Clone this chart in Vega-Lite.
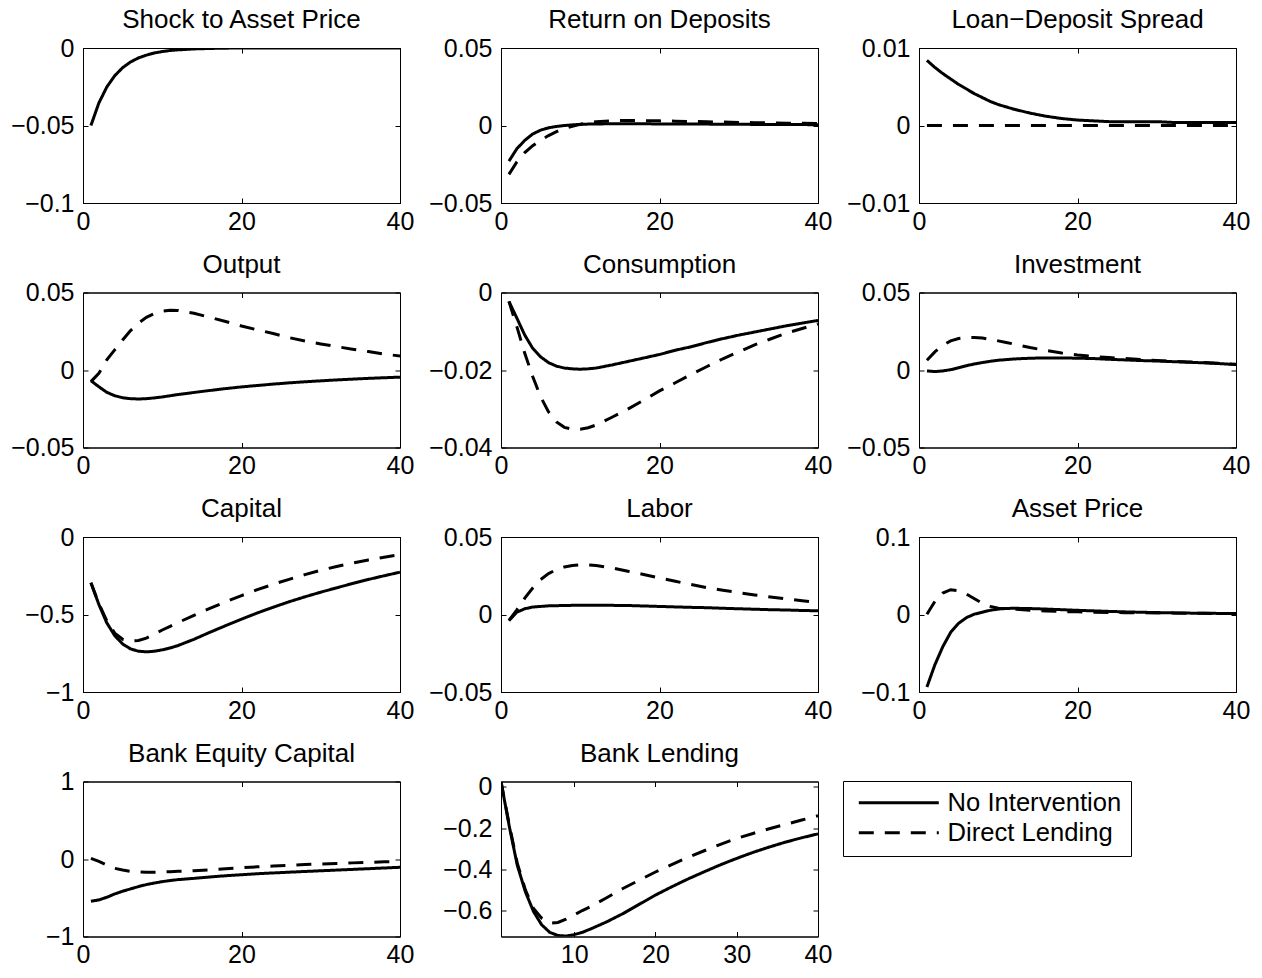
{
"$schema":"https://vega.github.io/schema/vega-lite/v6.json",
"padding":{"left":10,"top":6,"right":0,"bottom":0},
"background":"white",
"bounds":"flush",
"columns":3,
"spacing":{"row":89.5,"column":101},
"data":{"values":[
{"p":"shock","s":"N","t":1,"v":-0.05},{"p":"shock","s":"N","t":2,"v":-0.0355},{"p":"shock","s":"N","t":3,"v":-0.0252},{"p":"shock","s":"N","t":4,"v":-0.0179},{"p":"shock","s":"N","t":5,"v":-0.0127},{"p":"shock","s":"N","t":6,"v":-0.009},{"p":"shock","s":"N","t":7,"v":-0.0064},{"p":"shock","s":"N","t":8,"v":-0.0046},{"p":"shock","s":"N","t":9,"v":-0.0032},{"p":"shock","s":"N","t":10,"v":-0.0023},{"p":"shock","s":"N","t":11,"v":-0.0016},{"p":"shock","s":"N","t":12,"v":-0.0012},{"p":"shock","s":"N","t":14,"v":-0.0006},{"p":"shock","s":"N","t":16,"v":-0.0003},{"p":"shock","s":"N","t":18,"v":-0.0001},{"p":"shock","s":"N","t":20,"v":0},{"p":"shock","s":"N","t":22,"v":0},{"p":"shock","s":"N","t":24,"v":0},{"p":"shock","s":"N","t":26,"v":0},{"p":"shock","s":"N","t":28,"v":0},{"p":"shock","s":"N","t":30,"v":0},{"p":"shock","s":"N","t":32,"v":0},{"p":"shock","s":"N","t":34,"v":0},{"p":"shock","s":"N","t":36,"v":0},{"p":"shock","s":"N","t":38,"v":0},{"p":"shock","s":"N","t":40,"v":0},
{"p":"rd","s":"N","t":1,"v":-0.023},{"p":"rd","s":"N","t":2,"v":-0.015},{"p":"rd","s":"N","t":3,"v":-0.0096},{"p":"rd","s":"N","t":4,"v":-0.0055},{"p":"rd","s":"N","t":5,"v":-0.003},{"p":"rd","s":"N","t":6,"v":-0.0015},{"p":"rd","s":"N","t":7,"v":-0.0006},{"p":"rd","s":"N","t":8,"v":0},{"p":"rd","s":"N","t":9,"v":0.0004},{"p":"rd","s":"N","t":10,"v":0.0007},{"p":"rd","s":"N","t":11,"v":0.0009},{"p":"rd","s":"N","t":12,"v":0.001},{"p":"rd","s":"N","t":14,"v":0.0011},{"p":"rd","s":"N","t":16,"v":0.0011},{"p":"rd","s":"N","t":18,"v":0.0011},{"p":"rd","s":"N","t":20,"v":0.001},{"p":"rd","s":"N","t":22,"v":0.001},{"p":"rd","s":"N","t":24,"v":0.0009},{"p":"rd","s":"N","t":26,"v":0.0009},{"p":"rd","s":"N","t":28,"v":0.0008},{"p":"rd","s":"N","t":30,"v":0.0008},{"p":"rd","s":"N","t":32,"v":0.0007},{"p":"rd","s":"N","t":34,"v":0.0007},{"p":"rd","s":"N","t":36,"v":0.0006},{"p":"rd","s":"N","t":38,"v":0.0006},{"p":"rd","s":"N","t":40,"v":0.0005},
{"p":"rd","s":"D","t":1,"v":-0.0315},{"p":"rd","s":"D","t":2,"v":-0.0235},{"p":"rd","s":"D","t":3,"v":-0.0175},{"p":"rd","s":"D","t":4,"v":-0.013},{"p":"rd","s":"D","t":5,"v":-0.0095},{"p":"rd","s":"D","t":6,"v":-0.0065},{"p":"rd","s":"D","t":7,"v":-0.004},{"p":"rd","s":"D","t":8,"v":-0.002},{"p":"rd","s":"D","t":9,"v":-0.0005},{"p":"rd","s":"D","t":10,"v":0.0008},{"p":"rd","s":"D","t":11,"v":0.0018},{"p":"rd","s":"D","t":12,"v":0.0024},{"p":"rd","s":"D","t":14,"v":0.0031},{"p":"rd","s":"D","t":16,"v":0.0032},{"p":"rd","s":"D","t":18,"v":0.0031},{"p":"rd","s":"D","t":20,"v":0.003},{"p":"rd","s":"D","t":22,"v":0.0028},{"p":"rd","s":"D","t":24,"v":0.0026},{"p":"rd","s":"D","t":26,"v":0.0024},{"p":"rd","s":"D","t":28,"v":0.0022},{"p":"rd","s":"D","t":30,"v":0.002},{"p":"rd","s":"D","t":32,"v":0.0018},{"p":"rd","s":"D","t":34,"v":0.0017},{"p":"rd","s":"D","t":36,"v":0.0015},{"p":"rd","s":"D","t":38,"v":0.0014},{"p":"rd","s":"D","t":40,"v":0.0013},
{"p":"sp","s":"N","t":1,"v":0.0084},{"p":"sp","s":"N","t":2,"v":0.0075},{"p":"sp","s":"N","t":3,"v":0.0067},{"p":"sp","s":"N","t":4,"v":0.006},{"p":"sp","s":"N","t":5,"v":0.0053},{"p":"sp","s":"N","t":6,"v":0.0047},{"p":"sp","s":"N","t":7,"v":0.0041},{"p":"sp","s":"N","t":8,"v":0.0036},{"p":"sp","s":"N","t":9,"v":0.0031},{"p":"sp","s":"N","t":10,"v":0.0027},{"p":"sp","s":"N","t":11,"v":0.0024},{"p":"sp","s":"N","t":12,"v":0.0021},{"p":"sp","s":"N","t":14,"v":0.0016},{"p":"sp","s":"N","t":16,"v":0.0012},{"p":"sp","s":"N","t":18,"v":0.0009},{"p":"sp","s":"N","t":20,"v":0.0007},{"p":"sp","s":"N","t":22,"v":0.0006},{"p":"sp","s":"N","t":24,"v":0.0005},{"p":"sp","s":"N","t":26,"v":0.0005},{"p":"sp","s":"N","t":28,"v":0.0005},{"p":"sp","s":"N","t":30,"v":0.0005},{"p":"sp","s":"N","t":32,"v":0.0004},{"p":"sp","s":"N","t":34,"v":0.0004},{"p":"sp","s":"N","t":36,"v":0.0004},{"p":"sp","s":"N","t":38,"v":0.0004},{"p":"sp","s":"N","t":40,"v":0.0004},
{"p":"sp","s":"D","t":1,"v":0},{"p":"sp","s":"D","t":2,"v":0},{"p":"sp","s":"D","t":3,"v":0},{"p":"sp","s":"D","t":4,"v":0},{"p":"sp","s":"D","t":5,"v":0},{"p":"sp","s":"D","t":6,"v":0},{"p":"sp","s":"D","t":7,"v":0},{"p":"sp","s":"D","t":8,"v":0},{"p":"sp","s":"D","t":9,"v":0},{"p":"sp","s":"D","t":10,"v":0},{"p":"sp","s":"D","t":11,"v":0},{"p":"sp","s":"D","t":12,"v":0},{"p":"sp","s":"D","t":14,"v":0},{"p":"sp","s":"D","t":16,"v":0},{"p":"sp","s":"D","t":18,"v":0},{"p":"sp","s":"D","t":20,"v":0},{"p":"sp","s":"D","t":22,"v":0},{"p":"sp","s":"D","t":24,"v":0},{"p":"sp","s":"D","t":26,"v":0},{"p":"sp","s":"D","t":28,"v":0},{"p":"sp","s":"D","t":30,"v":0},{"p":"sp","s":"D","t":32,"v":0},{"p":"sp","s":"D","t":34,"v":0},{"p":"sp","s":"D","t":36,"v":0},{"p":"sp","s":"D","t":38,"v":0},{"p":"sp","s":"D","t":40,"v":0},
{"p":"y","s":"N","t":1,"v":-0.0069},{"p":"y","s":"N","t":2,"v":-0.0108},{"p":"y","s":"N","t":3,"v":-0.0144},{"p":"y","s":"N","t":4,"v":-0.0166},{"p":"y","s":"N","t":5,"v":-0.0179},{"p":"y","s":"N","t":6,"v":-0.0185},{"p":"y","s":"N","t":7,"v":-0.0187},{"p":"y","s":"N","t":8,"v":-0.0185},{"p":"y","s":"N","t":9,"v":-0.018},{"p":"y","s":"N","t":10,"v":-0.0174},{"p":"y","s":"N","t":11,"v":-0.0166},{"p":"y","s":"N","t":12,"v":-0.0158},{"p":"y","s":"N","t":14,"v":-0.0145},{"p":"y","s":"N","t":16,"v":-0.0132},{"p":"y","s":"N","t":18,"v":-0.012},{"p":"y","s":"N","t":20,"v":-0.0109},{"p":"y","s":"N","t":22,"v":-0.01},{"p":"y","s":"N","t":24,"v":-0.0091},{"p":"y","s":"N","t":26,"v":-0.0083},{"p":"y","s":"N","t":28,"v":-0.0076},{"p":"y","s":"N","t":30,"v":-0.007},{"p":"y","s":"N","t":32,"v":-0.0064},{"p":"y","s":"N","t":34,"v":-0.0059},{"p":"y","s":"N","t":36,"v":-0.0054},{"p":"y","s":"N","t":38,"v":-0.005},{"p":"y","s":"N","t":40,"v":-0.0046},
{"p":"y","s":"D","t":1,"v":-0.0075},{"p":"y","s":"D","t":2,"v":-0.0022},{"p":"y","s":"D","t":3,"v":0.0065},{"p":"y","s":"D","t":4,"v":0.013},{"p":"y","s":"D","t":5,"v":0.0194},{"p":"y","s":"D","t":6,"v":0.0254},{"p":"y","s":"D","t":7,"v":0.0302},{"p":"y","s":"D","t":8,"v":0.034},{"p":"y","s":"D","t":9,"v":0.0364},{"p":"y","s":"D","t":10,"v":0.0379},{"p":"y","s":"D","t":11,"v":0.0386},{"p":"y","s":"D","t":12,"v":0.0384},{"p":"y","s":"D","t":14,"v":0.0366},{"p":"y","s":"D","t":16,"v":0.034},{"p":"y","s":"D","t":18,"v":0.0313},{"p":"y","s":"D","t":20,"v":0.0284},{"p":"y","s":"D","t":22,"v":0.0259},{"p":"y","s":"D","t":24,"v":0.0235},{"p":"y","s":"D","t":26,"v":0.0209},{"p":"y","s":"D","t":28,"v":0.0187},{"p":"y","s":"D","t":30,"v":0.0168},{"p":"y","s":"D","t":32,"v":0.0151},{"p":"y","s":"D","t":34,"v":0.0134},{"p":"y","s":"D","t":36,"v":0.0119},{"p":"y","s":"D","t":38,"v":0.0103},{"p":"y","s":"D","t":40,"v":0.009},
{"p":"c","s":"N","t":1,"v":-0.0023},{"p":"c","s":"N","t":2,"v":-0.0066},{"p":"c","s":"N","t":3,"v":-0.011},{"p":"c","s":"N","t":4,"v":-0.0144},{"p":"c","s":"N","t":5,"v":-0.0166},{"p":"c","s":"N","t":6,"v":-0.0181},{"p":"c","s":"N","t":7,"v":-0.019},{"p":"c","s":"N","t":8,"v":-0.0195},{"p":"c","s":"N","t":9,"v":-0.0197},{"p":"c","s":"N","t":10,"v":-0.0198},{"p":"c","s":"N","t":11,"v":-0.0197},{"p":"c","s":"N","t":12,"v":-0.0195},{"p":"c","s":"N","t":14,"v":-0.0187},{"p":"c","s":"N","t":16,"v":-0.0178},{"p":"c","s":"N","t":18,"v":-0.0169},{"p":"c","s":"N","t":20,"v":-0.016},{"p":"c","s":"N","t":22,"v":-0.0149},{"p":"c","s":"N","t":24,"v":-0.014},{"p":"c","s":"N","t":26,"v":-0.0129},{"p":"c","s":"N","t":28,"v":-0.0119},{"p":"c","s":"N","t":30,"v":-0.011},{"p":"c","s":"N","t":32,"v":-0.0102},{"p":"c","s":"N","t":34,"v":-0.0094},{"p":"c","s":"N","t":36,"v":-0.0086},{"p":"c","s":"N","t":38,"v":-0.0079},{"p":"c","s":"N","t":40,"v":-0.0072},
{"p":"c","s":"D","t":1,"v":-0.0023},{"p":"c","s":"D","t":2,"v":-0.0088},{"p":"c","s":"D","t":3,"v":-0.0157},{"p":"c","s":"D","t":4,"v":-0.0217},{"p":"c","s":"D","t":5,"v":-0.0269},{"p":"c","s":"D","t":6,"v":-0.0308},{"p":"c","s":"D","t":7,"v":-0.0334},{"p":"c","s":"D","t":8,"v":-0.0348},{"p":"c","s":"D","t":9,"v":-0.0353},{"p":"c","s":"D","t":10,"v":-0.0353},{"p":"c","s":"D","t":11,"v":-0.0349},{"p":"c","s":"D","t":12,"v":-0.0342},{"p":"c","s":"D","t":14,"v":-0.0322},{"p":"c","s":"D","t":16,"v":-0.0301},{"p":"c","s":"D","t":18,"v":-0.0278},{"p":"c","s":"D","t":20,"v":-0.0254},{"p":"c","s":"D","t":22,"v":-0.0233},{"p":"c","s":"D","t":24,"v":-0.0211},{"p":"c","s":"D","t":26,"v":-0.0191},{"p":"c","s":"D","t":28,"v":-0.0171},{"p":"c","s":"D","t":30,"v":-0.0153},{"p":"c","s":"D","t":32,"v":-0.0135},{"p":"c","s":"D","t":34,"v":-0.012},{"p":"c","s":"D","t":36,"v":-0.0105},{"p":"c","s":"D","t":38,"v":-0.0093},{"p":"c","s":"D","t":40,"v":-0.0081},
{"p":"i","s":"N","t":1,"v":-0.0006},{"p":"i","s":"N","t":2,"v":-0.001},{"p":"i","s":"N","t":3,"v":-0.0006},{"p":"i","s":"N","t":4,"v":0.0002},{"p":"i","s":"N","t":5,"v":0.0015},{"p":"i","s":"N","t":6,"v":0.0028},{"p":"i","s":"N","t":7,"v":0.0039},{"p":"i","s":"N","t":8,"v":0.0048},{"p":"i","s":"N","t":9,"v":0.0056},{"p":"i","s":"N","t":10,"v":0.0063},{"p":"i","s":"N","t":11,"v":0.0067},{"p":"i","s":"N","t":12,"v":0.0071},{"p":"i","s":"N","t":14,"v":0.0076},{"p":"i","s":"N","t":16,"v":0.0078},{"p":"i","s":"N","t":18,"v":0.0078},{"p":"i","s":"N","t":20,"v":0.0076},{"p":"i","s":"N","t":22,"v":0.0074},{"p":"i","s":"N","t":24,"v":0.0069},{"p":"i","s":"N","t":26,"v":0.0065},{"p":"i","s":"N","t":28,"v":0.0061},{"p":"i","s":"N","t":30,"v":0.0058},{"p":"i","s":"N","t":32,"v":0.0054},{"p":"i","s":"N","t":34,"v":0.005},{"p":"i","s":"N","t":36,"v":0.0046},{"p":"i","s":"N","t":38,"v":0.0041},{"p":"i","s":"N","t":40,"v":0.0035},
{"p":"i","s":"D","t":1,"v":0.0063},{"p":"i","s":"D","t":2,"v":0.0117},{"p":"i","s":"D","t":3,"v":0.016},{"p":"i","s":"D","t":4,"v":0.0188},{"p":"i","s":"D","t":5,"v":0.0203},{"p":"i","s":"D","t":6,"v":0.021},{"p":"i","s":"D","t":7,"v":0.021},{"p":"i","s":"D","t":8,"v":0.0206},{"p":"i","s":"D","t":9,"v":0.0198},{"p":"i","s":"D","t":10,"v":0.0188},{"p":"i","s":"D","t":11,"v":0.0178},{"p":"i","s":"D","t":12,"v":0.0167},{"p":"i","s":"D","t":14,"v":0.0145},{"p":"i","s":"D","t":16,"v":0.0126},{"p":"i","s":"D","t":18,"v":0.011},{"p":"i","s":"D","t":20,"v":0.0097},{"p":"i","s":"D","t":22,"v":0.0087},{"p":"i","s":"D","t":24,"v":0.008},{"p":"i","s":"D","t":26,"v":0.0074},{"p":"i","s":"D","t":28,"v":0.0067},{"p":"i","s":"D","t":30,"v":0.0061},{"p":"i","s":"D","t":32,"v":0.0056},{"p":"i","s":"D","t":34,"v":0.0052},{"p":"i","s":"D","t":36,"v":0.0048},{"p":"i","s":"D","t":38,"v":0.0043},{"p":"i","s":"D","t":40,"v":0.0037},
{"p":"k","s":"N","t":1,"v":-0.295},{"p":"k","s":"N","t":2,"v":-0.435},{"p":"k","s":"N","t":3,"v":-0.554},{"p":"k","s":"N","t":4,"v":-0.636},{"p":"k","s":"N","t":5,"v":-0.69},{"p":"k","s":"N","t":6,"v":-0.722},{"p":"k","s":"N","t":7,"v":-0.737},{"p":"k","s":"N","t":8,"v":-0.741},{"p":"k","s":"N","t":9,"v":-0.737},{"p":"k","s":"N","t":10,"v":-0.728},{"p":"k","s":"N","t":11,"v":-0.716},{"p":"k","s":"N","t":12,"v":-0.7},{"p":"k","s":"N","t":14,"v":-0.66},{"p":"k","s":"N","t":16,"v":-0.615},{"p":"k","s":"N","t":18,"v":-0.572},{"p":"k","s":"N","t":20,"v":-0.53},{"p":"k","s":"N","t":22,"v":-0.49},{"p":"k","s":"N","t":24,"v":-0.453},{"p":"k","s":"N","t":26,"v":-0.418},{"p":"k","s":"N","t":28,"v":-0.386},{"p":"k","s":"N","t":30,"v":-0.356},{"p":"k","s":"N","t":32,"v":-0.328},{"p":"k","s":"N","t":34,"v":-0.3},{"p":"k","s":"N","t":36,"v":-0.274},{"p":"k","s":"N","t":38,"v":-0.25},{"p":"k","s":"N","t":40,"v":-0.227},
{"p":"k","s":"D","t":1,"v":-0.295},{"p":"k","s":"D","t":2,"v":-0.43},{"p":"k","s":"D","t":3,"v":-0.54},{"p":"k","s":"D","t":4,"v":-0.62},{"p":"k","s":"D","t":5,"v":-0.66},{"p":"k","s":"D","t":6,"v":-0.672},{"p":"k","s":"D","t":7,"v":-0.668},{"p":"k","s":"D","t":8,"v":-0.652},{"p":"k","s":"D","t":9,"v":-0.627},{"p":"k","s":"D","t":10,"v":-0.6},{"p":"k","s":"D","t":11,"v":-0.576},{"p":"k","s":"D","t":12,"v":-0.552},{"p":"k","s":"D","t":14,"v":-0.505},{"p":"k","s":"D","t":16,"v":-0.46},{"p":"k","s":"D","t":18,"v":-0.418},{"p":"k","s":"D","t":20,"v":-0.378},{"p":"k","s":"D","t":22,"v":-0.34},{"p":"k","s":"D","t":24,"v":-0.305},{"p":"k","s":"D","t":26,"v":-0.273},{"p":"k","s":"D","t":28,"v":-0.243},{"p":"k","s":"D","t":30,"v":-0.215},{"p":"k","s":"D","t":32,"v":-0.19},{"p":"k","s":"D","t":34,"v":-0.168},{"p":"k","s":"D","t":36,"v":-0.148},{"p":"k","s":"D","t":38,"v":-0.13},{"p":"k","s":"D","t":40,"v":-0.113},
{"p":"l","s":"N","t":1,"v":-0.0039},{"p":"l","s":"N","t":2,"v":0.0015},{"p":"l","s":"N","t":3,"v":0.0037},{"p":"l","s":"N","t":4,"v":0.0048},{"p":"l","s":"N","t":5,"v":0.0052},{"p":"l","s":"N","t":6,"v":0.0056},{"p":"l","s":"N","t":7,"v":0.0057},{"p":"l","s":"N","t":8,"v":0.0058},{"p":"l","s":"N","t":9,"v":0.0059},{"p":"l","s":"N","t":10,"v":0.006},{"p":"l","s":"N","t":11,"v":0.006},{"p":"l","s":"N","t":12,"v":0.006},{"p":"l","s":"N","t":14,"v":0.0059},{"p":"l","s":"N","t":16,"v":0.0058},{"p":"l","s":"N","t":18,"v":0.0055},{"p":"l","s":"N","t":20,"v":0.0052},{"p":"l","s":"N","t":22,"v":0.0049},{"p":"l","s":"N","t":24,"v":0.0046},{"p":"l","s":"N","t":26,"v":0.0044},{"p":"l","s":"N","t":28,"v":0.004},{"p":"l","s":"N","t":30,"v":0.0037},{"p":"l","s":"N","t":32,"v":0.0034},{"p":"l","s":"N","t":34,"v":0.0031},{"p":"l","s":"N","t":36,"v":0.0029},{"p":"l","s":"N","t":38,"v":0.0026},{"p":"l","s":"N","t":40,"v":0.0024},
{"p":"l","s":"D","t":1,"v":-0.0039},{"p":"l","s":"D","t":2,"v":0.003},{"p":"l","s":"D","t":3,"v":0.0106},{"p":"l","s":"D","t":4,"v":0.0171},{"p":"l","s":"D","t":5,"v":0.0225},{"p":"l","s":"D","t":6,"v":0.0264},{"p":"l","s":"D","t":7,"v":0.029},{"p":"l","s":"D","t":8,"v":0.0307},{"p":"l","s":"D","t":9,"v":0.0316},{"p":"l","s":"D","t":10,"v":0.032},{"p":"l","s":"D","t":11,"v":0.032},{"p":"l","s":"D","t":12,"v":0.0316},{"p":"l","s":"D","t":14,"v":0.0301},{"p":"l","s":"D","t":16,"v":0.0279},{"p":"l","s":"D","t":18,"v":0.0258},{"p":"l","s":"D","t":20,"v":0.0236},{"p":"l","s":"D","t":22,"v":0.0214},{"p":"l","s":"D","t":24,"v":0.0193},{"p":"l","s":"D","t":26,"v":0.0173},{"p":"l","s":"D","t":28,"v":0.0156},{"p":"l","s":"D","t":30,"v":0.0141},{"p":"l","s":"D","t":32,"v":0.0126},{"p":"l","s":"D","t":34,"v":0.0113},{"p":"l","s":"D","t":36,"v":0.01},{"p":"l","s":"D","t":38,"v":0.0089},{"p":"l","s":"D","t":40,"v":0.0078},
{"p":"q","s":"N","t":1,"v":-0.0935},{"p":"q","s":"N","t":2,"v":-0.065},{"p":"q","s":"N","t":3,"v":-0.0416},{"p":"q","s":"N","t":4,"v":-0.023},{"p":"q","s":"N","t":5,"v":-0.0113},{"p":"q","s":"N","t":6,"v":-0.004},{"p":"q","s":"N","t":7,"v":0.0005},{"p":"q","s":"N","t":8,"v":0.003},{"p":"q","s":"N","t":9,"v":0.0055},{"p":"q","s":"N","t":10,"v":0.007},{"p":"q","s":"N","t":11,"v":0.0078},{"p":"q","s":"N","t":12,"v":0.008},{"p":"q","s":"N","t":14,"v":0.0077},{"p":"q","s":"N","t":16,"v":0.007},{"p":"q","s":"N","t":18,"v":0.0062},{"p":"q","s":"N","t":20,"v":0.0054},{"p":"q","s":"N","t":22,"v":0.0047},{"p":"q","s":"N","t":24,"v":0.004},{"p":"q","s":"N","t":26,"v":0.0034},{"p":"q","s":"N","t":28,"v":0.0029},{"p":"q","s":"N","t":30,"v":0.0025},{"p":"q","s":"N","t":32,"v":0.0021},{"p":"q","s":"N","t":34,"v":0.0018},{"p":"q","s":"N","t":36,"v":0.0016},{"p":"q","s":"N","t":38,"v":0.0014},{"p":"q","s":"N","t":40,"v":0.0013},
{"p":"q","s":"D","t":1,"v":0.0004},{"p":"q","s":"D","t":2,"v":0.0169},{"p":"q","s":"D","t":3,"v":0.0277},{"p":"q","s":"D","t":4,"v":0.032},{"p":"q","s":"D","t":5,"v":0.0307},{"p":"q","s":"D","t":6,"v":0.0264},{"p":"q","s":"D","t":7,"v":0.0203},{"p":"q","s":"D","t":8,"v":0.0143},{"p":"q","s":"D","t":9,"v":0.0105},{"p":"q","s":"D","t":10,"v":0.008},{"p":"q","s":"D","t":11,"v":0.0075},{"p":"q","s":"D","t":12,"v":0.007},{"p":"q","s":"D","t":14,"v":0.0055},{"p":"q","s":"D","t":16,"v":0.0045},{"p":"q","s":"D","t":18,"v":0.0038},{"p":"q","s":"D","t":20,"v":0.0034},{"p":"q","s":"D","t":22,"v":0.003},{"p":"q","s":"D","t":24,"v":0.0027},{"p":"q","s":"D","t":26,"v":0.0024},{"p":"q","s":"D","t":28,"v":0.0022},{"p":"q","s":"D","t":30,"v":0.002},{"p":"q","s":"D","t":32,"v":0.0018},{"p":"q","s":"D","t":34,"v":0.0016},{"p":"q","s":"D","t":36,"v":0.0015},{"p":"q","s":"D","t":38,"v":0.0013},{"p":"q","s":"D","t":40,"v":0.0012},
{"p":"e","s":"N","t":1,"v":-0.545},{"p":"e","s":"N","t":2,"v":-0.528},{"p":"e","s":"N","t":3,"v":-0.494},{"p":"e","s":"N","t":4,"v":-0.451},{"p":"e","s":"N","t":5,"v":-0.416},{"p":"e","s":"N","t":6,"v":-0.386},{"p":"e","s":"N","t":7,"v":-0.356},{"p":"e","s":"N","t":8,"v":-0.33},{"p":"e","s":"N","t":9,"v":-0.31},{"p":"e","s":"N","t":10,"v":-0.292},{"p":"e","s":"N","t":11,"v":-0.278},{"p":"e","s":"N","t":12,"v":-0.266},{"p":"e","s":"N","t":14,"v":-0.25},{"p":"e","s":"N","t":16,"v":-0.232},{"p":"e","s":"N","t":18,"v":-0.216},{"p":"e","s":"N","t":20,"v":-0.203},{"p":"e","s":"N","t":22,"v":-0.19},{"p":"e","s":"N","t":24,"v":-0.18},{"p":"e","s":"N","t":26,"v":-0.17},{"p":"e","s":"N","t":28,"v":-0.161},{"p":"e","s":"N","t":30,"v":-0.152},{"p":"e","s":"N","t":32,"v":-0.143},{"p":"e","s":"N","t":34,"v":-0.134},{"p":"e","s":"N","t":36,"v":-0.125},{"p":"e","s":"N","t":38,"v":-0.116},{"p":"e","s":"N","t":40,"v":-0.107},
{"p":"e","s":"D","t":1,"v":0.009},{"p":"e","s":"D","t":2,"v":-0.03},{"p":"e","s":"D","t":3,"v":-0.077},{"p":"e","s":"D","t":4,"v":-0.12},{"p":"e","s":"D","t":5,"v":-0.142},{"p":"e","s":"D","t":6,"v":-0.159},{"p":"e","s":"D","t":7,"v":-0.167},{"p":"e","s":"D","t":8,"v":-0.172},{"p":"e","s":"D","t":9,"v":-0.171},{"p":"e","s":"D","t":10,"v":-0.167},{"p":"e","s":"D","t":11,"v":-0.163},{"p":"e","s":"D","t":12,"v":-0.159},{"p":"e","s":"D","t":14,"v":-0.151},{"p":"e","s":"D","t":16,"v":-0.139},{"p":"e","s":"D","t":18,"v":-0.125},{"p":"e","s":"D","t":20,"v":-0.112},{"p":"e","s":"D","t":22,"v":-0.101},{"p":"e","s":"D","t":24,"v":-0.091},{"p":"e","s":"D","t":26,"v":-0.081},{"p":"e","s":"D","t":28,"v":-0.072},{"p":"e","s":"D","t":30,"v":-0.064},{"p":"e","s":"D","t":32,"v":-0.057},{"p":"e","s":"D","t":34,"v":-0.05},{"p":"e","s":"D","t":36,"v":-0.043},{"p":"e","s":"D","t":38,"v":-0.036},{"p":"e","s":"D","t":40,"v":-0.03},
{"p":"b","s":"N","t":1,"v":0.026},{"p":"b","s":"N","t":2,"v":-0.188},{"p":"b","s":"N","t":3,"v":-0.38},{"p":"b","s":"N","t":4,"v":-0.509},{"p":"b","s":"N","t":5,"v":-0.605},{"p":"b","s":"N","t":6,"v":-0.669},{"p":"b","s":"N","t":7,"v":-0.706},{"p":"b","s":"N","t":8,"v":-0.721},{"p":"b","s":"N","t":9,"v":-0.724},{"p":"b","s":"N","t":10,"v":-0.717},{"p":"b","s":"N","t":11,"v":-0.706},{"p":"b","s":"N","t":12,"v":-0.69},{"p":"b","s":"N","t":14,"v":-0.655},{"p":"b","s":"N","t":16,"v":-0.615},{"p":"b","s":"N","t":18,"v":-0.57},{"p":"b","s":"N","t":20,"v":-0.525},{"p":"b","s":"N","t":22,"v":-0.485},{"p":"b","s":"N","t":24,"v":-0.447},{"p":"b","s":"N","t":26,"v":-0.412},{"p":"b","s":"N","t":28,"v":-0.378},{"p":"b","s":"N","t":30,"v":-0.347},{"p":"b","s":"N","t":32,"v":-0.318},{"p":"b","s":"N","t":34,"v":-0.292},{"p":"b","s":"N","t":36,"v":-0.268},{"p":"b","s":"N","t":38,"v":-0.247},{"p":"b","s":"N","t":40,"v":-0.228},
{"p":"b","s":"D","t":1,"v":0.026},{"p":"b","s":"D","t":2,"v":-0.18},{"p":"b","s":"D","t":3,"v":-0.37},{"p":"b","s":"D","t":4,"v":-0.5},{"p":"b","s":"D","t":5,"v":-0.59},{"p":"b","s":"D","t":6,"v":-0.637},{"p":"b","s":"D","t":7,"v":-0.661},{"p":"b","s":"D","t":8,"v":-0.658},{"p":"b","s":"D","t":9,"v":-0.642},{"p":"b","s":"D","t":10,"v":-0.621},{"p":"b","s":"D","t":11,"v":-0.6},{"p":"b","s":"D","t":12,"v":-0.581},{"p":"b","s":"D","t":14,"v":-0.538},{"p":"b","s":"D","t":16,"v":-0.493},{"p":"b","s":"D","t":18,"v":-0.453},{"p":"b","s":"D","t":20,"v":-0.413},{"p":"b","s":"D","t":22,"v":-0.377},{"p":"b","s":"D","t":24,"v":-0.342},{"p":"b","s":"D","t":26,"v":-0.31},{"p":"b","s":"D","t":28,"v":-0.279},{"p":"b","s":"D","t":30,"v":-0.25},{"p":"b","s":"D","t":32,"v":-0.226},{"p":"b","s":"D","t":34,"v":-0.203},{"p":"b","s":"D","t":36,"v":-0.182},{"p":"b","s":"D","t":38,"v":-0.161},{"p":"b","s":"D","t":40,"v":-0.14}
]},
"concat":[
{"width":317,"height":155,"title":"Shock to Asset Price","transform":[{"filter":"datum.p=='shock'"}],"layer":[{"mark":{"type":"line","strokeWidth":3,"color":"black","clip":true},"encoding":{"x":{"field":"t","type":"quantitative","scale":{"domain":[0,40],"nice":false,"zero":false},"axis":{"orient":"bottom","values":[0,20,40],"title":null}},"y":{"field":"v","type":"quantitative","scale":{"domain":[-0.1,0],"nice":false,"zero":false},"axis":{"orient":"left","values":[-0.1,-0.05,0],"title":null,"format":".2~f"}},"strokeDash":{"field":"s","type":"nominal","scale":{"domain":["N","D"],"range":[[1,0],[15,11]]},"legend":{"title":null,"labelExpr":"datum.label=='N'?'No Intervention':'Direct Lending'"}}}},{"mark":{"type":"line","opacity":0},"encoding":{"x":{"field":"t","type":"quantitative","axis":{"orient":"top","values":[0,20,40],"labels":false,"title":null}},"y":{"field":"v","type":"quantitative","axis":{"orient":"right","values":[-0.1,-0.05,0],"labels":false,"title":null}},"detail":{"field":"s"}}}]},
{"width":317,"height":155,"title":"Return on Deposits","transform":[{"filter":"datum.p=='rd'"}],"layer":[{"mark":{"type":"line","strokeWidth":3,"color":"black","clip":true},"encoding":{"x":{"field":"t","type":"quantitative","scale":{"domain":[0,40],"nice":false,"zero":false},"axis":{"orient":"bottom","values":[0,20,40],"title":null}},"y":{"field":"v","type":"quantitative","scale":{"domain":[-0.05,0.05],"nice":false,"zero":false},"axis":{"orient":"left","values":[-0.05,0,0.05],"title":null,"format":".2~f"}},"strokeDash":{"field":"s","type":"nominal","scale":{"domain":["N","D"],"range":[[1,0],[15,11]]},"legend":{"title":null,"labelExpr":"datum.label=='N'?'No Intervention':'Direct Lending'"}}}},{"mark":{"type":"line","opacity":0},"encoding":{"x":{"field":"t","type":"quantitative","axis":{"orient":"top","values":[0,20,40],"labels":false,"title":null}},"y":{"field":"v","type":"quantitative","axis":{"orient":"right","values":[-0.05,0,0.05],"labels":false,"title":null}},"detail":{"field":"s"}}}]},
{"width":317,"height":155,"title":"Loan−Deposit Spread","transform":[{"filter":"datum.p=='sp'"}],"layer":[{"mark":{"type":"line","strokeWidth":3,"color":"black","clip":true},"encoding":{"x":{"field":"t","type":"quantitative","scale":{"domain":[0,40],"nice":false,"zero":false},"axis":{"orient":"bottom","values":[0,20,40],"title":null}},"y":{"field":"v","type":"quantitative","scale":{"domain":[-0.01,0.01],"nice":false,"zero":false},"axis":{"orient":"left","values":[-0.01,0,0.01],"title":null,"format":".2~f"}},"strokeDash":{"field":"s","type":"nominal","scale":{"domain":["N","D"],"range":[[1,0],[15,11]]},"legend":{"title":null,"labelExpr":"datum.label=='N'?'No Intervention':'Direct Lending'"}}}},{"mark":{"type":"line","opacity":0},"encoding":{"x":{"field":"t","type":"quantitative","axis":{"orient":"top","values":[0,20,40],"labels":false,"title":null}},"y":{"field":"v","type":"quantitative","axis":{"orient":"right","values":[-0.01,0,0.01],"labels":false,"title":null}},"detail":{"field":"s"}}}]},
{"width":317,"height":155,"title":"Output","transform":[{"filter":"datum.p=='y'"}],"layer":[{"mark":{"type":"line","strokeWidth":3,"color":"black","clip":true},"encoding":{"x":{"field":"t","type":"quantitative","scale":{"domain":[0,40],"nice":false,"zero":false},"axis":{"orient":"bottom","values":[0,20,40],"title":null}},"y":{"field":"v","type":"quantitative","scale":{"domain":[-0.05,0.05],"nice":false,"zero":false},"axis":{"orient":"left","values":[-0.05,0,0.05],"title":null,"format":".2~f"}},"strokeDash":{"field":"s","type":"nominal","scale":{"domain":["N","D"],"range":[[1,0],[15,11]]},"legend":{"title":null,"labelExpr":"datum.label=='N'?'No Intervention':'Direct Lending'"}}}},{"mark":{"type":"line","opacity":0},"encoding":{"x":{"field":"t","type":"quantitative","axis":{"orient":"top","values":[0,20,40],"labels":false,"title":null}},"y":{"field":"v","type":"quantitative","axis":{"orient":"right","values":[-0.05,0,0.05],"labels":false,"title":null}},"detail":{"field":"s"}}}]},
{"width":317,"height":155,"title":"Consumption","transform":[{"filter":"datum.p=='c'"}],"layer":[{"mark":{"type":"line","strokeWidth":3,"color":"black","clip":true},"encoding":{"x":{"field":"t","type":"quantitative","scale":{"domain":[0,40],"nice":false,"zero":false},"axis":{"orient":"bottom","values":[0,20,40],"title":null}},"y":{"field":"v","type":"quantitative","scale":{"domain":[-0.04,0],"nice":false,"zero":false},"axis":{"orient":"left","values":[-0.04,-0.02,0],"title":null,"format":".2~f"}},"strokeDash":{"field":"s","type":"nominal","scale":{"domain":["N","D"],"range":[[1,0],[15,11]]},"legend":{"title":null,"labelExpr":"datum.label=='N'?'No Intervention':'Direct Lending'"}}}},{"mark":{"type":"line","opacity":0},"encoding":{"x":{"field":"t","type":"quantitative","axis":{"orient":"top","values":[0,20,40],"labels":false,"title":null}},"y":{"field":"v","type":"quantitative","axis":{"orient":"right","values":[-0.04,-0.02,0],"labels":false,"title":null}},"detail":{"field":"s"}}}]},
{"width":317,"height":155,"title":"Investment","transform":[{"filter":"datum.p=='i'"}],"layer":[{"mark":{"type":"line","strokeWidth":3,"color":"black","clip":true},"encoding":{"x":{"field":"t","type":"quantitative","scale":{"domain":[0,40],"nice":false,"zero":false},"axis":{"orient":"bottom","values":[0,20,40],"title":null}},"y":{"field":"v","type":"quantitative","scale":{"domain":[-0.05,0.05],"nice":false,"zero":false},"axis":{"orient":"left","values":[-0.05,0,0.05],"title":null,"format":".2~f"}},"strokeDash":{"field":"s","type":"nominal","scale":{"domain":["N","D"],"range":[[1,0],[15,11]]},"legend":{"title":null,"labelExpr":"datum.label=='N'?'No Intervention':'Direct Lending'"}}}},{"mark":{"type":"line","opacity":0},"encoding":{"x":{"field":"t","type":"quantitative","axis":{"orient":"top","values":[0,20,40],"labels":false,"title":null}},"y":{"field":"v","type":"quantitative","axis":{"orient":"right","values":[-0.05,0,0.05],"labels":false,"title":null}},"detail":{"field":"s"}}}]},
{"width":317,"height":155,"title":"Capital","transform":[{"filter":"datum.p=='k'"}],"layer":[{"mark":{"type":"line","strokeWidth":3,"color":"black","clip":true},"encoding":{"x":{"field":"t","type":"quantitative","scale":{"domain":[0,40],"nice":false,"zero":false},"axis":{"orient":"bottom","values":[0,20,40],"title":null}},"y":{"field":"v","type":"quantitative","scale":{"domain":[-1,0],"nice":false,"zero":false},"axis":{"orient":"left","values":[-1,-0.5,0],"title":null,"format":".2~f"}},"strokeDash":{"field":"s","type":"nominal","scale":{"domain":["N","D"],"range":[[1,0],[15,11]]},"legend":{"title":null,"labelExpr":"datum.label=='N'?'No Intervention':'Direct Lending'"}}}},{"mark":{"type":"line","opacity":0},"encoding":{"x":{"field":"t","type":"quantitative","axis":{"orient":"top","values":[0,20,40],"labels":false,"title":null}},"y":{"field":"v","type":"quantitative","axis":{"orient":"right","values":[-1,-0.5,0],"labels":false,"title":null}},"detail":{"field":"s"}}}]},
{"width":317,"height":155,"title":"Labor","transform":[{"filter":"datum.p=='l'"}],"layer":[{"mark":{"type":"line","strokeWidth":3,"color":"black","clip":true},"encoding":{"x":{"field":"t","type":"quantitative","scale":{"domain":[0,40],"nice":false,"zero":false},"axis":{"orient":"bottom","values":[0,20,40],"title":null}},"y":{"field":"v","type":"quantitative","scale":{"domain":[-0.05,0.05],"nice":false,"zero":false},"axis":{"orient":"left","values":[-0.05,0,0.05],"title":null,"format":".2~f"}},"strokeDash":{"field":"s","type":"nominal","scale":{"domain":["N","D"],"range":[[1,0],[15,11]]},"legend":{"title":null,"labelExpr":"datum.label=='N'?'No Intervention':'Direct Lending'"}}}},{"mark":{"type":"line","opacity":0},"encoding":{"x":{"field":"t","type":"quantitative","axis":{"orient":"top","values":[0,20,40],"labels":false,"title":null}},"y":{"field":"v","type":"quantitative","axis":{"orient":"right","values":[-0.05,0,0.05],"labels":false,"title":null}},"detail":{"field":"s"}}}]},
{"width":317,"height":155,"title":"Asset Price","transform":[{"filter":"datum.p=='q'"}],"layer":[{"mark":{"type":"line","strokeWidth":3,"color":"black","clip":true},"encoding":{"x":{"field":"t","type":"quantitative","scale":{"domain":[0,40],"nice":false,"zero":false},"axis":{"orient":"bottom","values":[0,20,40],"title":null}},"y":{"field":"v","type":"quantitative","scale":{"domain":[-0.1,0.1],"nice":false,"zero":false},"axis":{"orient":"left","values":[-0.1,0,0.1],"title":null,"format":".2~f"}},"strokeDash":{"field":"s","type":"nominal","scale":{"domain":["N","D"],"range":[[1,0],[15,11]]},"legend":{"title":null,"labelExpr":"datum.label=='N'?'No Intervention':'Direct Lending'"}}}},{"mark":{"type":"line","opacity":0},"encoding":{"x":{"field":"t","type":"quantitative","axis":{"orient":"top","values":[0,20,40],"labels":false,"title":null}},"y":{"field":"v","type":"quantitative","axis":{"orient":"right","values":[-0.1,0,0.1],"labels":false,"title":null}},"detail":{"field":"s"}}}]},
{"width":317,"height":155,"title":"Bank Equity Capital","transform":[{"filter":"datum.p=='e'"}],"layer":[{"mark":{"type":"line","strokeWidth":3,"color":"black","clip":true},"encoding":{"x":{"field":"t","type":"quantitative","scale":{"domain":[0,40],"nice":false,"zero":false},"axis":{"orient":"bottom","values":[0,20,40],"title":null}},"y":{"field":"v","type":"quantitative","scale":{"domain":[-1,1],"nice":false,"zero":false},"axis":{"orient":"left","values":[-1,0,1],"title":null,"format":".2~f"}},"strokeDash":{"field":"s","type":"nominal","scale":{"domain":["N","D"],"range":[[1,0],[15,11]]},"legend":{"title":null,"labelExpr":"datum.label=='N'?'No Intervention':'Direct Lending'"}}}},{"mark":{"type":"line","opacity":0},"encoding":{"x":{"field":"t","type":"quantitative","axis":{"orient":"top","values":[0,20,40],"labels":false,"title":null}},"y":{"field":"v","type":"quantitative","axis":{"orient":"right","values":[-1,0,1],"labels":false,"title":null}},"detail":{"field":"s"}}}]},
{"width":317,"height":155,"title":{"text":"Bank Lending","offset":8.3},"transform":[{"filter":"datum.p=='b'"}],"layer":[{"mark":{"type":"line","strokeWidth":3,"color":"black","clip":true},"encoding":{"x":{"field":"t","type":"quantitative","scale":{"domain":[1,40],"nice":false,"zero":false},"axis":{"orient":"bottom","values":[10,20,30,40],"title":null}},"y":{"field":"v","type":"quantitative","scale":{"domain":[-0.726,0.026],"nice":false,"zero":false},"axis":{"orient":"left","values":[-0.6,-0.4,-0.2,0],"title":null,"format":".2~f"}},"strokeDash":{"field":"s","type":"nominal","scale":{"domain":["N","D"],"range":[[1,0],[15,11]]},"legend":{"title":null,"labelExpr":"datum.label=='N'?'No Intervention':'Direct Lending'"}}}},{"mark":{"type":"line","opacity":0},"encoding":{"x":{"field":"t","type":"quantitative","axis":{"orient":"top","values":[10,20,30,40],"labels":false,"title":null}},"y":{"field":"v","type":"quantitative","axis":{"orient":"right","values":[-0.6,-0.4,-0.2,0],"labels":false,"title":null}},"detail":{"field":"s"}}}]}
],
"config":{
"font":"Liberation Sans",
"view":{"stroke":"black","strokeWidth":1},
"axis":{"grid":false,"domainColor":"black","domainWidth":1,"tickColor":"black","tickWidth":1,"tickSize":-5,"labelFont":"Liberation Sans","labelFontSize":25,"labelColor":"black","labelFlush":false,"labelOverlap":false,"labelBound":false},
"axisX":{"labelPadding":11},
"axisY":{"labelPadding":14},
"title":{"font":"Liberation Sans","fontSize":26,"fontWeight":"normal","color":"black","anchor":"middle","frame":"group","baseline":"alphabetic","offset":3},
"legend":{"orient":"none","legendX":760,"legendY":733,"strokeColor":"black","fillColor":"white","padding":9,"symbolOffset":34,"symbolType":"M-4,0H4","symbolSize":400,"symbolStrokeWidth":3,"symbolStrokeColor":"black","symbolFillColor":"transparent","labelFont":"Liberation Sans","labelFontSize":25.6,"labelColor":"black","labelOffset":36,"labelLimit":0,"rowPadding":3}
}
}
